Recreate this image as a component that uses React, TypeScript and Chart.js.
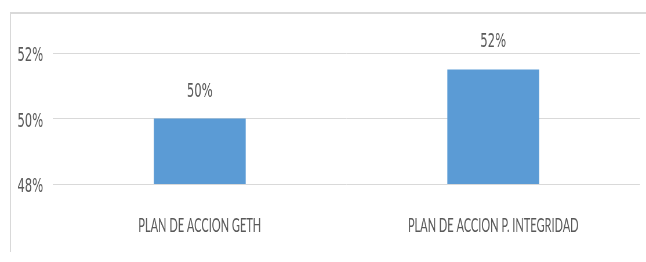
import React, { useEffect, useRef } from "react";
import { Chart, registerables } from "chart.js";

Chart.register(...registerables);

// ---- data ----
const categories: string[] = ["PLAN DE ACCION GETH", "PLAN DE ACCION P. INTEGRIDAD"];
const values: number[] = [50, 51.5];
const yMin = 48;
const yMax = 52;
const yStep = 2;

// ---- presentation ----
const W = 646;
const H = 262;
const SX = 0.58; // horizontal condensing of the whole chart
const LW = Math.round(W / SX);
const REAL_SX = W / LW;
const TEXT = "#595959";
const GRID = "#d9d9d9";
const BAR = "#5b9bd5";

export default function App() {
  const ref = useRef<HTMLCanvasElement | null>(null);

  useEffect(() => {
    if (!ref.current) return;
    const barLabels = {
      id: "barLabels",
      afterDatasetsDraw(chart: any) {
        const ctx = chart.ctx;
        const meta = chart.getDatasetMeta(0);
        ctx.save();
        ctx.font = "20px 'DejaVu Sans'";
        ctx.fillStyle = TEXT;
        ctx.textAlign = "center";
        ctx.textBaseline = "alphabetic";
        meta.data.forEach((bar: any, i: number) => {
          ctx.fillText(Math.round(values[i]) + "%", bar.x, bar.y - 22);
        });
        ctx.restore();
      },
    };

    const chart = new Chart(ref.current, {
      type: "bar",
      data: {
        labels: categories,
        datasets: [
          {
            data: values,
            backgroundColor: BAR,
            borderWidth: 0,
            barPercentage: 0.313,
            categoryPercentage: 1,
          },
        ],
      },
      options: {
        animation: false,
        responsive: true,
        maintainAspectRatio: false,
        layout: {
          padding: { left: 0, top: 53, bottom: 0, right: LW - 640 / REAL_SX },
        },
        plugins: {
          legend: { display: false },
          tooltip: { enabled: false },
        },
        scales: {
          x: {
            grid: { display: false },
            border: { display: false },
            ticks: {
              color: TEXT,
              font: { family: "'Liberation Sans Narrow', Lato", size: 19 },
              padding: 22,
              maxRotation: 0,
            },
            afterFit(s: any) {
              s.height = H - 184;
            },
          },
          y: {
            min: yMin,
            max: yMax,
            grid: { color: GRID, lineWidth: 1, drawTicks: false },
            border: { display: false },
            ticks: {
              stepSize: yStep,
              color: TEXT,
              font: { family: "DejaVu Sans", size: 20 },
              padding: 17,
              labelOffset: 3,
              callback: (v: any) => v + "%",
            },
            afterFit(s: any) {
              s.width = 53 / REAL_SX;
            },
          },
        },
      },
      plugins: [barLabels],
    });
    return () => chart.destroy();
  }, []);

  return (
    <>
      <div
        style={{
          position: "fixed",
          left: 10,
          top: 12,
          width: 700,
          height: 240,
          borderTop: `2px solid ${GRID}`,
          borderLeft: `1px solid ${GRID}`,
          boxSizing: "border-box",
        }}
      />
      <div
        style={{
          position: "fixed",
          left: 0,
          top: 0,
          width: LW,
          height: H,
          transform: `scaleX(${REAL_SX})`,
          transformOrigin: "0 0",
        }}
      >
        <canvas ref={ref} />
      </div>
    </>
  );
}
